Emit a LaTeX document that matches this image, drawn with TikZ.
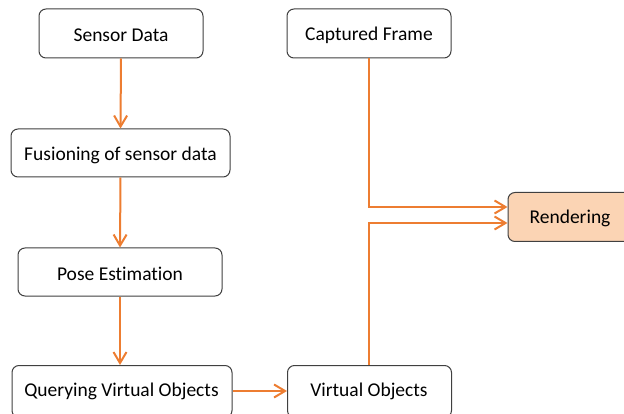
\documentclass[tikz,border=0pt]{standalone}
\usepackage{fontspec}
\setmainfont{Carlito}[Ligatures=NoCommon]
\usetikzlibrary{arrows.meta}
\definecolor{arr}{HTML}{ED7D31}
\definecolor{peach}{HTML}{FBD4B4}
\begin{document}
\begin{tikzpicture}[x=1pt,y=-1pt,
  txt/.style={font=\fontsize{19.5}{22}\selectfont},
  box/.style={draw=black!75, line width=1pt, rounded corners=7pt, fill=white, txt},
  flow/.style={draw=arr, line width=2pt, -{Straight Barb[length=11pt,width=13pt,line width=2pt]}}]
\useasboundingbox (0,0) rectangle (624,414);
\clip (0,0) rectangle (624,414);
\node[box, minimum width=164pt, minimum height=49pt] (sd) at (121,33.5) {};
\node[txt] (sdt) at (121,35) {Sensor Data};
\node[box, minimum width=164pt, minimum height=49pt] (cf) at (369,33.5) {};
\node[txt] (cft) at (369,35) {Captured Frame};
\node[box, minimum width=219pt, minimum height=48pt] (fu) at (120.5,153) {};
\node[txt] (fut) at (120.5,155) {Fusioning of sensor data};
\node[box, minimum width=204pt, minimum height=48pt] (pe) at (120,272) {};
\node[txt] (pet) at (120,273.5) {Pose Estimation};
\node[box, minimum width=220pt, minimum height=52pt, anchor=north west] (qv) at (11.5,365) {};
\node[txt] (qvt) at (121.5,391) {Querying Virtual Objects};
\node[box, minimum width=164pt, minimum height=52pt, anchor=north west] (vo) at (287,365) {};
\node[txt] (vot) at (369,391) {Virtual Objects};
\node[box, fill=peach, minimum width=130pt, minimum height=49pt, anchor=north west] (re) at (507.5,192) {};
\node[txt] (ret) at (570,218) {Rendering};
\draw[flow] (sd.south) -- (fu.north);
\draw[flow] (fu.south) -- (pe.north);
\draw[flow] (pe.south) -- (pe.south |- qv.north);
\draw[flow] (qv.east |- qvt) -- (vo.west |- vot);
\coordinate (r1) at (507.5,207);
\coordinate (r2) at (507.5,223);
\draw[flow] (cf.south) |- (r1);
\draw[flow] (vot |- vo.north) |- (r2);
\end{tikzpicture}
\end{document}
